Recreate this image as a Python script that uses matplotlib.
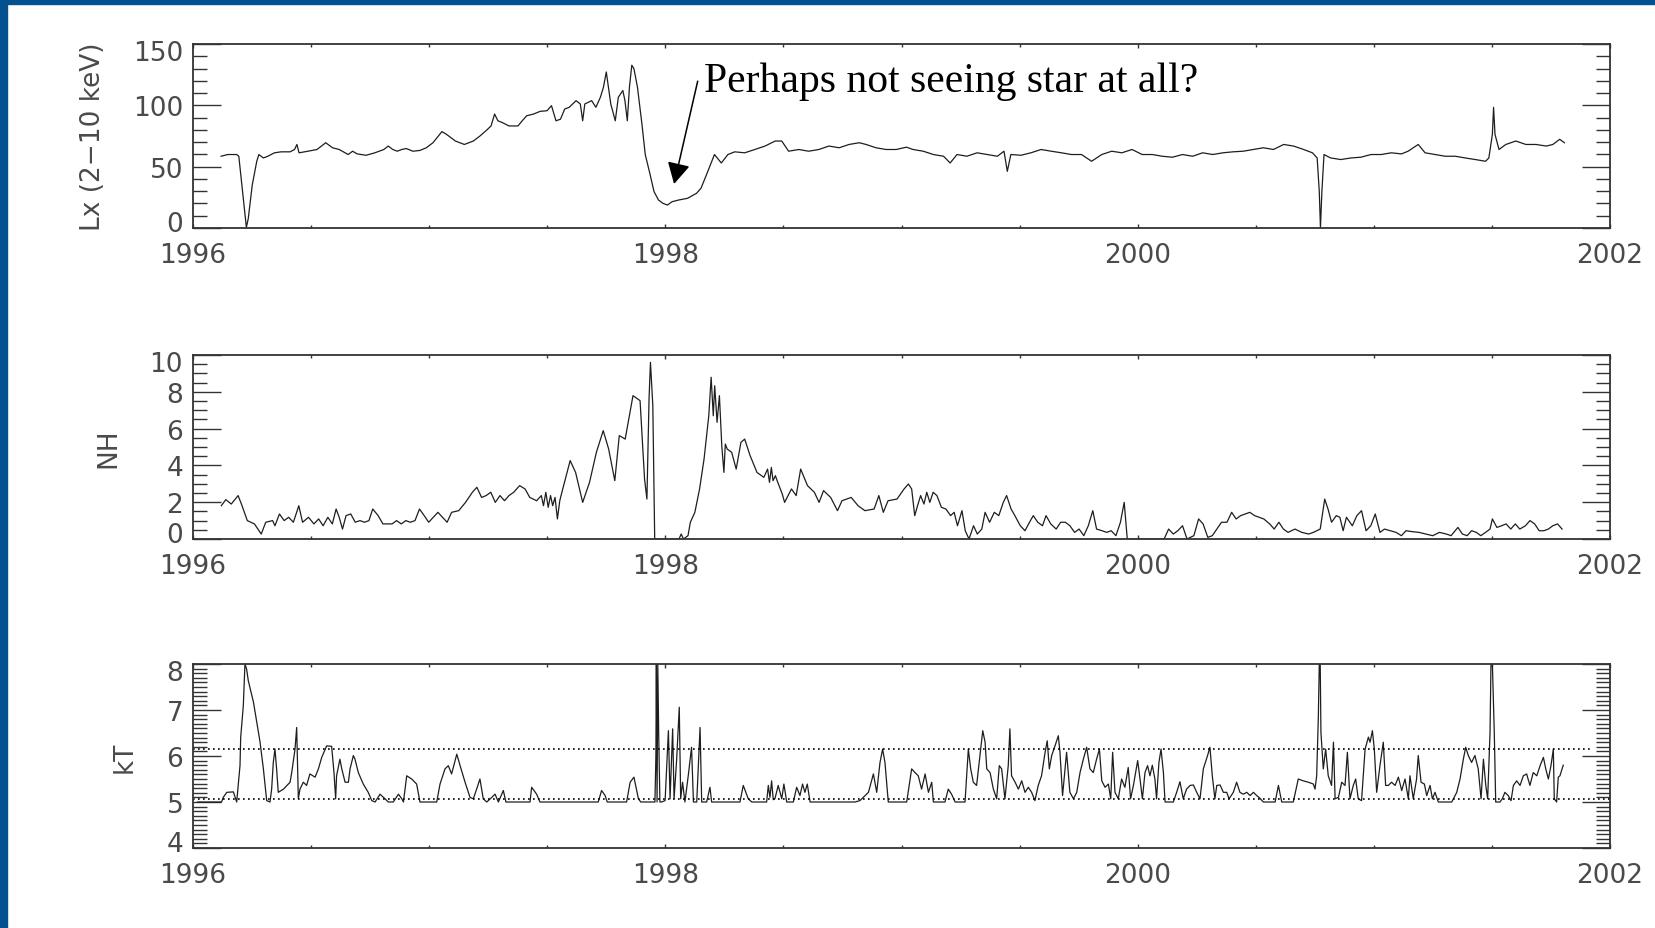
import matplotlib
matplotlib.use('Agg')
import matplotlib.pyplot as plt
import matplotlib.transforms as mtransforms
import numpy as np
from matplotlib.patches import Rectangle
from matplotlib.ticker import MultipleLocator

# Lx (2-10 keV) light curve
lx_year = [1996.119, 1996.147, 1996.185, 1996.194, 1996.213, 1996.226, 1996.234, 1996.251, 1996.270, 1996.279,
           1996.298, 1996.317, 1996.345, 1996.373, 1996.411, 1996.430, 1996.440, 1996.449, 1996.487, 1996.525,
           1996.562, 1996.591, 1996.619, 1996.657, 1996.676, 1996.695, 1996.733, 1996.770, 1996.808, 1996.827,
           1996.846, 1996.865, 1996.884, 1996.903, 1996.931, 1996.960, 1996.988, 1997.016, 1997.054, 1997.073,
           1997.111, 1997.149, 1997.187, 1997.215, 1997.243, 1997.262, 1997.277, 1997.291, 1997.309, 1997.338,
           1997.376, 1997.394, 1997.413, 1997.442, 1997.470, 1997.499, 1997.518, 1997.537, 1997.556, 1997.574,
           1997.593, 1997.622, 1997.640, 1997.650, 1997.659, 1997.688, 1997.706, 1997.725, 1997.738, 1997.750,
           1997.769, 1997.788, 1997.801, 1997.820, 1997.829, 1997.839, 1997.848, 1997.858, 1997.867, 1997.882,
           1997.901, 1997.915, 1997.934, 1997.952, 1997.971, 1997.990, 1998.009, 1998.028, 1998.056, 1998.094,
           1998.132, 1998.151, 1998.180, 1998.208, 1998.237, 1998.265, 1998.294, 1998.336, 1998.379, 1998.422,
           1998.465, 1998.493, 1998.522, 1998.565, 1998.607, 1998.650, 1998.693, 1998.736, 1998.778, 1998.821,
           1998.850, 1998.892, 1998.935, 1998.978, 1999.021, 1999.049, 1999.092, 1999.135, 1999.178, 1999.206,
           1999.235, 1999.277, 1999.320, 1999.363, 1999.406, 1999.434, 1999.448, 1999.463, 1999.506, 1999.548,
           1999.591, 1999.634, 1999.677, 1999.719, 1999.762, 1999.805, 1999.848, 1999.890, 1999.933, 1999.976,
           2000.019, 2000.062, 2000.104, 2000.147, 2000.190, 2000.233, 2000.275, 2000.318, 2000.361, 2000.404,
           2000.447, 2000.489, 2000.532, 2000.575, 2000.618, 2000.660, 2000.703, 2000.740, 2000.760, 2000.769,
           2000.774, 2000.780, 2000.789, 2000.817, 2000.860, 2000.903, 2000.945, 2000.988, 2001.031, 2001.074,
           2001.117, 2001.145, 2001.188, 2001.217, 2001.259, 2001.302, 2001.345, 2001.387, 2001.430, 2001.473,
           2001.487, 2001.502, 2001.507, 2001.513, 2001.530, 2001.559, 2001.601, 2001.644, 2001.687, 2001.730,
           2001.758, 2001.787, 2001.807]
lx_val = [58.5, 59.9, 59.9, 58.5, 24.2, 0.5, 7.7, 35.2, 54.4, 59.9,
          57.1, 58.5, 61.3, 62.1, 62.1, 64.0, 68.1, 61.3, 62.6, 64.0,
          69.5, 65.4, 64.0, 59.9, 62.6, 60.4, 59.3, 61.3, 64.0, 66.8,
          64.0, 62.6, 64.0, 64.8, 62.6, 63.2, 65.4, 69.5, 78.6, 76.4,
          70.9, 68.1, 70.9, 75.0, 79.7, 83.2, 92.9, 87.4, 86.0, 83.2,
          83.2, 87.4, 91.5, 92.9, 95.1, 95.6, 99.7, 87.4, 88.7, 97.0,
          98.4, 103.8, 101.1, 87.4, 101.1, 103.8, 98.4, 106.6, 114.8, 127.2,
          101.1, 87.4, 106.6, 112.1, 103.8, 87.4, 114.8, 132.7, 129.9, 114.8,
          84.6, 59.9, 44.8, 29.7, 22.8, 20.1, 18.7, 21.4, 22.8, 24.2,
          28.3, 32.4, 46.2, 59.9, 53.0, 59.9, 62.1, 61.3, 64.0, 66.8,
          70.9, 70.9, 62.6, 64.0, 62.6, 64.0, 66.8, 65.4, 68.1, 69.5,
          68.1, 65.4, 64.0, 64.0, 65.9, 64.0, 62.6, 59.9, 58.5, 53.0,
          59.9, 58.5, 61.3, 59.9, 58.5, 62.6, 46.2, 59.9, 59.3, 61.3,
          64.0, 62.6, 61.3, 59.9, 59.9, 54.4, 59.9, 62.6, 61.3, 64.0,
          59.9, 59.9, 58.5, 57.7, 59.9, 58.5, 61.3, 59.9, 61.3, 62.1,
          62.6, 64.0, 65.4, 64.0, 68.1, 66.8, 64.0, 61.3, 57.1, 29.7,
          0.0, 29.7, 59.9, 57.1, 55.8, 57.1, 57.7, 59.9, 59.9, 61.3,
          60.4, 62.6, 68.1, 61.3, 59.9, 58.5, 58.5, 57.1, 55.8, 54.4,
          57.1, 76.4, 98.4, 76.4, 64.0, 68.1, 70.9, 68.1, 68.1, 66.8,
          68.1, 72.3, 69.5]

# NH column density
nh_year = [1996.120, 1996.139, 1996.162, 1996.191, 1996.205, 1996.230, 1996.260, 1996.289, 1996.308, 1996.337,
           1996.347, 1996.366, 1996.386, 1996.405, 1996.425, 1996.448, 1996.464, 1996.489, 1996.512, 1996.532,
           1996.551, 1996.571, 1996.590, 1996.606, 1996.619, 1996.633, 1996.648, 1996.668, 1996.687, 1996.707,
           1996.726, 1996.745, 1996.761, 1996.784, 1996.804, 1996.843, 1996.862, 1996.882, 1996.901, 1996.920,
           1996.940, 1996.959, 1996.979, 1996.998, 1997.037, 1997.076, 1997.095, 1997.125, 1997.154, 1997.183,
           1997.202, 1997.222, 1997.241, 1997.261, 1997.280, 1997.300, 1997.319, 1997.338, 1997.358, 1997.383,
           1997.406, 1997.426, 1997.455, 1997.475, 1997.484, 1997.494, 1997.504, 1997.514, 1997.523, 1997.533,
           1997.543, 1997.553, 1997.562, 1997.597, 1997.620, 1997.650, 1997.679, 1997.708, 1997.737, 1997.760,
           1997.786, 1997.805, 1997.830, 1997.863, 1997.893, 1997.912, 1997.922, 1997.931, 1997.937, 1997.947,
           1997.955, 1998.058, 1998.067, 1998.077, 1998.096, 1998.106, 1998.125, 1998.145, 1998.164, 1998.184,
           1998.194, 1998.203, 1998.209, 1998.219, 1998.229, 1998.239, 1998.248, 1998.254, 1998.262, 1998.281,
           1998.300, 1998.320, 1998.336, 1998.359, 1998.388, 1998.417, 1998.433, 1998.441, 1998.449, 1998.456,
           1998.466, 1998.476, 1998.495, 1998.505, 1998.534, 1998.554, 1998.573, 1998.602, 1998.631, 1998.651,
           1998.670, 1998.700, 1998.729, 1998.748, 1998.787, 1998.816, 1998.845, 1998.884, 1998.904, 1998.923,
           1998.943, 1998.981, 1999.011, 1999.029, 1999.043, 1999.056, 1999.068, 1999.081, 1999.095, 1999.107,
           1999.120, 1999.134, 1999.150, 1999.169, 1999.188, 1999.208, 1999.223, 1999.237, 1999.256, 1999.270,
           1999.286, 1999.305, 1999.321, 1999.340, 1999.354, 1999.373, 1999.393, 1999.412, 1999.431, 1999.445,
           1999.464, 1999.480, 1999.503, 1999.523, 1999.542, 1999.558, 1999.577, 1999.597, 1999.612, 1999.632,
           1999.655, 1999.674, 1999.694, 1999.713, 1999.733, 1999.752, 1999.772, 1999.791, 1999.810, 1999.826,
           1999.849, 1999.869, 1999.888, 1999.908, 1999.927, 1999.943, 1999.956, 2000.112, 2000.131, 2000.151,
           2000.170, 2000.190, 2000.209, 2000.238, 2000.258, 2000.277, 2000.297, 2000.316, 2000.335, 2000.355,
           2000.378, 2000.398, 2000.417, 2000.436, 2000.456, 2000.475, 2000.495, 2000.514, 2000.534, 2000.559,
           2000.578, 2000.598, 2000.617, 2000.637, 2000.666, 2000.695, 2000.724, 2000.744, 2000.773, 2000.792,
           2000.806, 2000.821, 2000.841, 2000.856, 2000.870, 2000.884, 2000.909, 2000.928, 2000.948, 2000.967,
           2000.987, 2001.006, 2001.026, 2001.045, 2001.070, 2001.094, 2001.117, 2001.136, 2001.162, 2001.191,
           2001.220, 2001.249, 2001.278, 2001.307, 2001.327, 2001.356, 2001.375, 2001.395, 2001.414, 2001.434,
           2001.453, 2001.473, 2001.492, 2001.502, 2001.521, 2001.541, 2001.560, 2001.580, 2001.599, 2001.618,
           2001.642, 2001.661, 2001.681, 2001.700, 2001.720, 2001.739, 2001.758, 2001.778, 2001.797]
nh_val = [1.81, 2.14, 1.90, 2.36, 1.90, 1.00, 0.82, 0.27, 0.91, 1.00,
          0.72, 1.36, 1.00, 1.18, 0.91, 1.81, 0.91, 1.18, 0.82, 1.09,
          0.72, 1.18, 0.82, 1.63, 1.18, 0.54, 1.27, 1.36, 0.91, 1.00,
          0.91, 1.00, 1.63, 1.27, 0.82, 0.82, 1.00, 0.82, 1.00, 0.91,
          1.00, 1.63, 1.27, 0.91, 1.45, 0.91, 1.45, 1.54, 1.99, 2.54,
          2.81, 2.26, 2.36, 2.54, 1.99, 2.36, 2.08, 2.36, 2.54, 2.90,
          2.72, 2.26, 2.08, 2.36, 1.81, 2.54, 1.72, 2.36, 1.81, 2.26,
          1.09, 2.08, 2.54, 4.26, 3.62, 1.99, 3.08, 4.71, 5.89, 4.89,
          3.17, 5.62, 5.43, 7.79, 7.52, 3.26, 2.17, 7.61, 9.60, 7.25,
          0.00, 0.00, 0.27, 0.00, 0.18, 0.91, 1.45, 2.72, 4.35, 6.70,
          8.79, 6.70, 8.33, 6.34, 7.79, 5.07, 3.62, 5.16, 4.89, 4.71,
          3.80, 5.25, 5.43, 4.53, 3.62, 3.35, 3.80, 3.08, 3.89, 3.17,
          3.44, 3.08, 2.45, 1.99, 2.72, 2.36, 3.80, 2.90, 2.54, 1.99,
          2.63, 2.26, 1.54, 2.08, 2.26, 1.81, 1.54, 1.63, 2.36, 1.45,
          2.08, 2.17, 2.72, 2.99, 2.72, 1.27, 1.81, 2.36, 1.90, 2.54,
          1.99, 2.54, 2.36, 1.72, 1.63, 1.27, 1.45, 0.72, 1.54, 0.45,
          0.00, 0.72, 0.27, 0.54, 1.45, 0.91, 1.45, 1.27, 1.99, 2.36,
          1.63, 1.27, 0.72, 0.45, 0.91, 1.27, 0.91, 0.72, 1.27, 0.82,
          0.54, 0.91, 0.91, 0.72, 0.36, 0.54, 0.18, 0.72, 1.54, 0.54,
          0.45, 0.36, 0.45, 0.18, 0.91, 1.99, 0.00, 0.00, 0.54, 0.27,
          0.45, 0.72, 0.00, 0.18, 1.09, 0.82, 0.09, 0.18, 0.54, 0.91,
          0.91, 1.45, 1.09, 1.27, 1.36, 1.45, 1.27, 1.18, 1.09, 0.82,
          0.54, 0.91, 0.54, 0.36, 0.54, 0.36, 0.27, 0.36, 0.54, 2.17,
          1.63, 0.91, 1.27, 1.18, 0.45, 1.18, 0.72, 1.27, 1.54, 0.45,
          0.72, 1.36, 0.36, 0.54, 0.45, 0.36, 0.18, 0.45, 0.40, 0.36,
          0.27, 0.18, 0.36, 0.27, 0.18, 0.63, 0.27, 0.18, 0.45, 0.36,
          0.18, 0.36, 0.54, 1.09, 0.63, 0.72, 0.82, 0.54, 0.82, 0.54,
          0.72, 1.00, 0.82, 0.45, 0.45, 0.54, 0.72, 0.82, 0.54]

# kT temperature
kt_year = [1996.020, 1996.121, 1996.128, 1996.143, 1996.171, 1996.185, 1996.199, 1996.202, 1996.213, 1996.220,
           1996.227, 1996.234, 1996.256, 1996.270, 1996.284, 1996.298, 1996.312, 1996.326, 1996.333, 1996.340,
           1996.347, 1996.354, 1996.361, 1996.383, 1996.411, 1996.418, 1996.432, 1996.439, 1996.446, 1996.453,
           1996.467, 1996.481, 1996.495, 1996.517, 1996.531, 1996.545, 1996.566, 1996.587, 1996.597, 1996.604,
           1996.608, 1996.622, 1996.630, 1996.644, 1996.658, 1996.665, 1996.679, 1996.686, 1996.700, 1996.721,
           1996.742, 1996.757, 1996.771, 1996.792, 1996.813, 1996.827, 1996.848, 1996.870, 1996.884, 1996.891,
           1996.905, 1996.926, 1996.947, 1996.961, 1997.032, 1997.046, 1997.067, 1997.081, 1997.095, 1997.117,
           1997.131, 1997.152, 1997.173, 1997.187, 1997.201, 1997.215, 1997.229, 1997.244, 1997.265, 1997.279,
           1997.293, 1997.314, 1997.325, 1997.427, 1997.434, 1997.455, 1997.469, 1997.716, 1997.730, 1997.745,
           1997.754, 1997.836, 1997.851, 1997.867, 1997.886, 1997.896, 1997.956, 1997.960, 1997.962, 1997.965,
           1997.968, 1997.972, 1997.977, 1997.984, 1997.999, 1998.013, 1998.020, 1998.031, 1998.037, 1998.048,
           1998.059, 1998.065, 1998.073, 1998.083, 1998.097, 1998.111, 1998.119, 1998.133, 1998.147, 1998.154,
           1998.175, 1998.189, 1998.196, 1998.316, 1998.330, 1998.351, 1998.366, 1998.429, 1998.436, 1998.443,
           1998.450, 1998.457, 1998.464, 1998.478, 1998.493, 1998.502, 1998.514, 1998.542, 1998.556, 1998.570,
           1998.581, 1998.591, 1998.601, 1998.613, 1998.641, 1998.803, 1998.824, 1998.860, 1998.881, 1998.895,
           1998.909, 1998.920, 1998.930, 1998.944, 1999.022, 1999.043, 1999.057, 1999.071, 1999.085, 1999.100,
           1999.114, 1999.128, 1999.135, 1999.184, 1999.198, 1999.212, 1999.227, 1999.269, 1999.276, 1999.283,
           1999.293, 1999.304, 1999.318, 1999.332, 1999.344, 1999.354, 1999.361, 1999.375, 1999.389, 1999.403,
           1999.414, 1999.424, 1999.438, 1999.452, 1999.459, 1999.466, 1999.481, 1999.495, 1999.509, 1999.523,
           1999.537, 1999.551, 1999.565, 1999.579, 1999.593, 1999.608, 1999.617, 1999.626, 1999.636, 1999.650,
           1999.664, 1999.671, 1999.682, 1999.699, 1999.713, 1999.728, 1999.742, 1999.756, 1999.770, 1999.784,
           1999.798, 1999.812, 1999.826, 1999.838, 1999.848, 1999.862, 1999.876, 1999.886, 1999.894, 1999.904,
           1999.918, 1999.932, 1999.946, 1999.960, 1999.970, 1999.982, 1999.989, 2000.000, 2000.010, 2000.020,
           2000.031, 2000.042, 2000.052, 2000.062, 2000.073, 2000.080, 2000.090, 2000.099, 2000.109, 2000.116,
           2000.151, 2000.165, 2000.179, 2000.193, 2000.207, 2000.222, 2000.236, 2000.250, 2000.264, 2000.278,
           2000.285, 2000.296, 2000.306, 2000.316, 2000.327, 2000.335, 2000.349, 2000.363, 2000.377, 2000.387,
           2000.405, 2000.419, 2000.433, 2000.447, 2000.462, 2000.476, 2000.490, 2000.504, 2000.518, 2000.532,
           2000.582, 2000.596, 2000.610, 2000.659, 2000.680, 2000.701, 2000.723, 2000.744, 2000.751, 2000.758,
           2000.765, 2000.769, 2000.773, 2000.776, 2000.786, 2000.796, 2000.807, 2000.821, 2000.829, 2000.836,
           2000.850, 2000.864, 2000.878, 2000.888, 2000.899, 2000.913, 2000.923, 2000.934, 2000.948, 2000.963,
           2000.977, 2000.984, 2000.994, 2001.002, 2001.012, 2001.026, 2001.040, 2001.050, 2001.061, 2001.075,
           2001.090, 2001.104, 2001.118, 2001.132, 2001.146, 2001.153, 2001.167, 2001.181, 2001.188, 2001.200,
           2001.214, 2001.224, 2001.238, 2001.248, 2001.259, 2001.273, 2001.330, 2001.351, 2001.365, 2001.379,
           2001.389, 2001.400, 2001.414, 2001.428, 2001.442, 2001.454, 2001.464, 2001.474, 2001.482, 2001.492,
           2001.496, 2001.502, 2001.510, 2001.516, 2001.534, 2001.544, 2001.555, 2001.569, 2001.581, 2001.591,
           2001.605, 2001.619, 2001.633, 2001.647, 2001.661, 2001.675, 2001.690, 2001.704, 2001.718, 2001.728,
           2001.739, 2001.750, 2001.760, 2001.764, 2001.774, 2001.781, 2001.788, 2001.802]
kt_val = [5.00, 5.00, 5.10, 5.21, 5.22, 5.00, 5.79, 6.41, 7.09, 8.00,
          7.89, 7.64, 7.17, 6.73, 6.30, 5.72, 5.03, 5.00, 5.28, 5.86,
          6.15, 5.72, 5.21, 5.28, 5.43, 5.64, 6.15, 6.62, 5.07, 5.28,
          5.43, 5.36, 5.61, 5.54, 5.72, 5.97, 6.22, 6.21, 5.64, 5.07,
          5.57, 5.93, 5.72, 5.43, 5.43, 5.72, 6.01, 5.93, 5.64, 5.39,
          5.21, 5.03, 5.00, 5.17, 5.07, 5.00, 5.00, 5.17, 5.07, 5.00,
          5.57, 5.50, 5.39, 5.00, 5.00, 5.39, 5.72, 5.79, 5.61, 6.04,
          5.79, 5.43, 5.10, 5.07, 5.28, 5.50, 5.07, 5.00, 5.10, 5.17,
          5.00, 5.25, 5.00, 5.00, 5.32, 5.17, 5.00, 5.00, 5.25, 5.14,
          5.00, 5.00, 5.43, 5.54, 5.07, 5.00, 5.00, 6.00, 8.00, 5.00,
          8.00, 6.44, 5.00, 5.00, 5.03, 6.55, 5.07, 6.59, 5.07, 5.93,
          7.06, 5.07, 5.43, 5.00, 5.57, 6.19, 5.00, 5.00, 6.62, 5.00,
          5.00, 5.32, 5.00, 5.00, 5.36, 5.07, 5.00, 5.00, 5.36, 5.10,
          5.46, 5.05, 5.07, 5.36, 5.07, 5.39, 5.00, 5.00, 5.32, 5.14,
          5.39, 5.21, 5.39, 5.00, 5.00, 5.00, 5.03, 5.21, 5.61, 5.21,
          5.86, 6.15, 5.86, 5.00, 5.00, 5.72, 5.64, 5.57, 5.28, 5.61,
          5.21, 5.43, 5.00, 5.00, 5.28, 5.17, 5.00, 5.00, 5.57, 6.15,
          5.72, 5.43, 5.36, 6.01, 6.55, 6.30, 5.72, 5.64, 5.28, 5.07,
          5.79, 5.72, 5.07, 5.79, 6.59, 5.57, 5.43, 5.28, 5.46, 5.21,
          5.32, 5.21, 5.03, 5.36, 5.57, 6.08, 6.33, 5.72, 6.01, 6.22,
          6.44, 6.08, 5.14, 6.08, 5.21, 5.07, 5.21, 5.64, 5.93, 6.19,
          5.72, 5.64, 5.93, 6.15, 5.46, 5.32, 5.39, 5.07, 6.08, 5.21,
          5.07, 5.50, 5.32, 5.75, 5.07, 5.36, 5.57, 5.90, 5.50, 5.07,
          5.64, 5.79, 5.57, 5.80, 5.50, 5.07, 5.86, 6.15, 5.64, 5.00,
          5.00, 5.21, 5.44, 5.07, 5.28, 5.36, 5.37, 5.21, 5.07, 5.72,
          5.83, 6.01, 6.19, 5.57, 5.07, 5.36, 5.37, 5.21, 5.21, 5.07,
          5.21, 5.43, 5.21, 5.17, 5.21, 5.14, 5.21, 5.14, 5.08, 5.00,
          5.00, 5.36, 5.00, 5.00, 5.50, 5.46, 5.43, 5.39, 5.28, 5.57,
          6.84, 8.00, 8.00, 6.51, 5.72, 6.15, 5.57, 5.36, 6.30, 5.07,
          5.10, 5.43, 5.36, 6.08, 5.07, 5.36, 5.50, 5.07, 5.03, 6.15,
          6.41, 6.30, 6.55, 6.15, 5.21, 5.79, 6.30, 5.36, 5.36, 5.43,
          5.36, 5.54, 5.25, 5.50, 5.07, 5.57, 5.07, 5.50, 6.01, 5.43,
          5.39, 5.14, 5.36, 5.07, 5.21, 5.00, 5.00, 5.21, 5.50, 5.93,
          6.19, 6.01, 5.86, 6.01, 5.72, 5.07, 5.93, 5.36, 5.07, 6.51,
          8.00, 8.00, 6.51, 5.00, 5.00, 5.07, 5.21, 5.14, 5.03, 5.36,
          5.46, 5.36, 5.57, 5.61, 5.36, 5.64, 5.57, 5.79, 5.97, 5.72,
          5.50, 5.79, 6.15, 5.07, 5.00, 5.54, 5.57, 5.80]

kt_lo_level = 5.07
kt_hi_level = 6.15

W, H = 1656, 929
fig = plt.figure(figsize=(W / 100, H / 100), dpi=100)
fig.patch.set_facecolor('white')

# slide frame
fig.patches.append(Rectangle((0, 1 - 5 / H), 1, 5 / H, transform=fig.transFigure,
                             color='#03528f', zorder=10))
fig.patches.append(Rectangle((0, 0), 7 / W, 1, transform=fig.transFigure,
                             color='#03528f', zorder=10))

left, width, height = 193 / W, 1417 / W, 184 / H
ax_lx = fig.add_axes([left, 700 / H, width, height])
ax_nh = fig.add_axes([left, 389 / H, width, height])
ax_kt = fig.add_axes([left, 80 / H, width, height])

line_col = '#1e1e1e'
text_col = '#4a4a4a'
lab_size = 19


def idl_axis(ax, ylim, ymajor, yminor, ylabel, xlab):
    ax.set_xlim(1996, 2002)
    ax.set_ylim(*ylim)
    ax.xaxis.set_major_locator(MultipleLocator(2))
    ax.xaxis.set_minor_locator(MultipleLocator(0.5))
    ax.yaxis.set_minor_locator(MultipleLocator(yminor))
    ax.tick_params(axis='both', which='both', direction='in', top=True, right=True,
                   color='#333333', width=1.0, labelcolor=text_col, labelsize=lab_size)
    ax.tick_params(axis='x', which='major', length=3, pad=10)
    ax.tick_params(axis='x', which='minor', length=2)
    ax.tick_params(axis='y', which='major', length=20, pad=7)
    ax.tick_params(axis='y', which='minor', length=10)
    for s in ax.spines.values():
        s.set_color('#333333')
        s.set_linewidth(1.3)
    ax.set_xticks([1996, 1998, 2000, 2002], ['1996', '1998', '2000', '2002'])
    yt = np.arange(ylim[0], ylim[1] + ymajor / 2, ymajor)
    # end labels sit a little inside the axis range
    ax.set_yticks(yt, [''] + ['%d' % v for v in yt[1:-1]] + [''])
    for v, dy in ((yt[0], 7), (yt[-1], -6)):
        tr = ax.get_yaxis_transform() + mtransforms.ScaledTranslation(-10 / 100, dy / 100,
                                                                      fig.dpi_scale_trans)
        ax.text(0, v, '%d' % v, transform=tr, ha='right', va='center_baseline',
                fontsize=lab_size, color=text_col)
    pos = ax.get_position()
    fig.text(xlab / W, (pos.y0 + pos.y1) / 2, ylabel,
             rotation=90, ha='center', va='center', fontsize=lab_size, color=text_col)


idl_axis(ax_lx, (0, 150), 50, 10, 'Lx (2\u221210 keV)', 93)
idl_axis(ax_nh, (0, 10), 2, 0.5, 'NH', 108)
idl_axis(ax_kt, (4, 8), 1, 0.1, 'kT', 125)

ax_lx.plot(lx_year, lx_val, color=line_col, lw=0.9)
ax_nh.plot(nh_year, nh_val, color=line_col, lw=0.9)
ax_kt.plot(kt_year, kt_val, color=line_col, lw=0.9)

ax_kt.hlines(kt_lo_level, 1996, 2002, colors='black', linestyles=(0, (1, 2)), lw=1.2)
ax_kt.hlines(kt_hi_level, 1996, 2001.93, colors='black', linestyles=(0, (1, 2)), lw=1.2)

ax_lx.annotate('', xy=(1998.037, 35.9), xytext=(1998.137, 119.7),
               arrowprops=dict(arrowstyle='-|>,head_length=0.65,head_width=0.35',
                               mutation_scale=20, color='black', lw=1.1,
                               shrinkA=0, shrinkB=0))
ax_lx.text(1998.164, 111.7, 'Perhaps not seeing star at all?', family='Liberation Serif',
           fontsize=30, ha='left', va='baseline', color='black')

fig.savefig('out.png', dpi=100)
